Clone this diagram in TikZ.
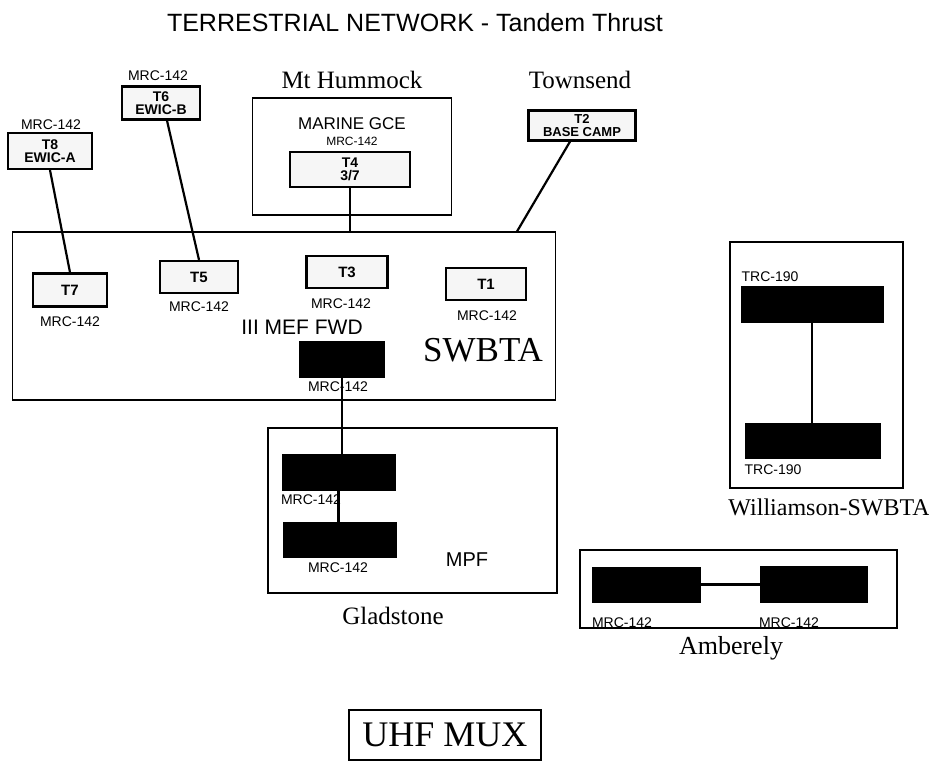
\documentclass[tikz,border=0pt]{standalone}
\usepackage{fontspec}
\setmainfont{Liberation Serif}
\setsansfont{Liberation Sans}
\newcommand{\fsz}[1]{\fontsize{#1}{#1}\selectfont}
\begin{document}
\begin{tikzpicture}[x=1pt, y=-1pt,
    lite/.style={draw, line width=2.2pt, fill=gray!7, inner sep=0pt, align=center,
      font=\sffamily\bfseries\fsz{14}},
    dark/.style={draw, line width=1pt, fill=black, inner sep=0pt},
    area/.style={draw, line width=1.1pt, inner sep=0pt},
    eq/.style={inner sep=0pt, font=\sffamily\fsz{14}},
    site/.style={inner sep=0pt, font=\rmfamily\fsz{25}},
    link/.style={line width=2.2pt}]
\useasboundingbox (0,0) rectangle (929,763);
\node[font=\sffamily\fsz{25}] (title) at (415,23) {TERRESTRIAL NETWORK - Tandem Thrust};

\node[area, minimum width=199pt, minimum height=117pt] (hummock) at (352,156.5) {};
\node[site] (hummocklbl) at (352,80) {Mt Hummock};
\node[inner sep=0pt, font=\sffamily\fsz{17}] (gce) at (352,124) {MARINE GCE};
\node[eq, font=\sffamily\fsz{12}] (t4mrc) at (352,141) {MRC-142};
\node[lite, minimum width=120pt, minimum height=35pt] (t4) at (350,169.5) {T4\\[-1pt]3/7};

\node[site] (townsend) at (580,80) {Townsend};
\node[lite, minimum width=107pt, minimum height=30pt, font=\sffamily\bfseries\fsz{13}] (t2) at (582,125.5) {T2\\BASE CAMP};

\node[eq] (t8mrc) at (51,125) {MRC-142};
\node[lite, minimum width=84pt, minimum height=36pt] (t8) at (50,151) {T8\\[-1pt]EWIC-A};
\node[eq] (t6mrc) at (158,76) {MRC-142};
\node[lite, minimum width=78pt, minimum height=33pt] (t6) at (161,103) {T6\\[-1pt]EWIC-B};

\node[area, minimum width=543pt, minimum height=168pt] (swbta) at (284,316) {};
\node[lite, minimum width=74pt, minimum height=33pt, font=\sffamily\bfseries\fsz{15}] (t7) at (70,290) {T7};
\node[eq] (t7mrc) at (70,322) {MRC-142};
\node[lite, minimum width=78pt, minimum height=32pt, font=\sffamily\bfseries\fsz{15}] (t5) at (199,277) {T5};
\node[eq] (t5mrc) at (199,307) {MRC-142};
\node[lite, minimum width=81pt, minimum height=32pt, font=\sffamily\bfseries\fsz{15}] (t3) at (347,272) {T3};
\node[eq] (t3mrc) at (341,304) {MRC-142};
\node[lite, minimum width=80pt, minimum height=32pt, font=\sffamily\bfseries\fsz{15}] (t1) at (486,284) {T1};
\node[eq] (t1mrc) at (487,316) {MRC-142};
\node[inner sep=0pt, font=\sffamily\fsz{21}] (meflbl) at (302,327) {III MEF FWD};
\node[dark, minimum width=85pt, minimum height=36pt] (mef) at (342,359) {};
\node[eq] (mefmrc) at (338,387) {MRC-142};
\node[inner sep=0pt, font=\rmfamily\fsz{35}] (swbtalbl) at (483,350) {SWBTA};

\node[area, minimum width=289pt, minimum height=165pt] (glad) at (412.5,510.5) {};
\node[dark, minimum width=113pt, minimum height=36pt] (g1) at (338.5,472) {};
\node[eq] (g1mrc) at (311,500) {MRC-142};
\node[dark, minimum width=113pt, minimum height=35pt] (g2) at (339.5,540) {};
\node[eq] (g2mrc) at (338,568) {MRC-142};
\node[inner sep=0pt, font=\sffamily\fsz{20}] (mpf) at (467,560) {MPF};
\node[site] (gladlbl) at (393,616) {Gladstone};

\node[area, minimum width=173pt, minimum height=246pt] (wil) at (816.5,365) {};
\node[eq] (w1trc) at (770,277) {TRC-190};
\node[dark, minimum width=142pt, minimum height=36pt] (w1) at (812,304.5) {};
\node[dark, minimum width=135pt, minimum height=35pt] (w2) at (812.5,440.5) {};
\node[eq] (w2trc) at (773,470) {TRC-190};
\node[site, font=\rmfamily\fsz{24}] (willbl) at (829,507) {Williamson-SWBTA};

\node[area, minimum width=317pt, minimum height=78pt] (amb) at (738.5,589) {};
\node[dark, minimum width=108pt, minimum height=35pt] (a1) at (646,584.5) {};
\node[dark, minimum width=107pt, minimum height=36pt] (a2) at (813.5,584) {};
\node[eq] (a1mrc) at (622,623) {MRC-142};
\node[eq] (a2mrc) at (789,623) {MRC-142};
\node[site, font=\rmfamily\fsz{26}] (amblbl) at (731,648) {Amberely};

\node[draw, line width=1.1pt, minimum width=192pt, minimum height=50pt, inner sep=0pt,
  font=\rmfamily\fsz{36}] (uhf) at (445,735) {UHF MUX};

\draw[link] (t8.south) -- (t7.north);
\draw[link] ([xshift=6pt]t6.south) -- (t5.north);
\draw[link] (t4.south) -- (t4.south |- swbta.north);
\draw[link] ([xshift=-12pt]t2.south) -- ([xshift=233pt]swbta.north);
\draw[link] (mef.south) -- (mef.south |- g1.north);
\draw[link] (g1.south) -- (g1.south |- g2.north);
\draw[link] (w1.south) -- (w1.south |- w2.north);
\draw[link] (a1.east) -- (a1.east -| a2.west);
\end{tikzpicture}
\end{document}
